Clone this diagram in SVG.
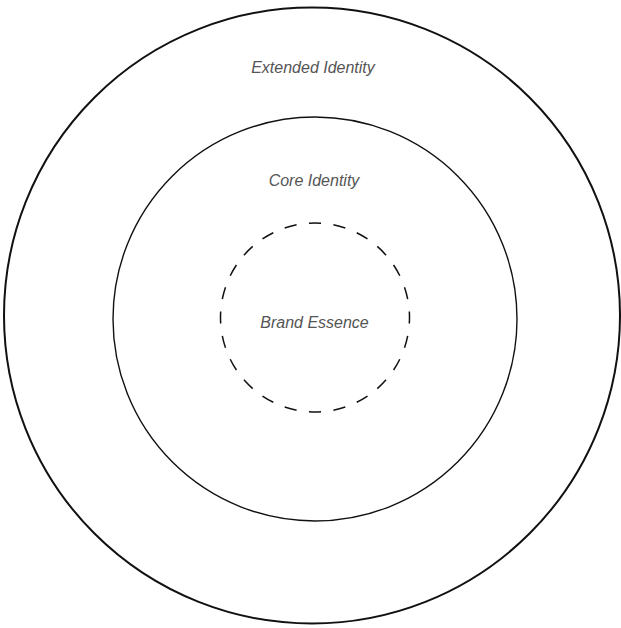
<svg xmlns="http://www.w3.org/2000/svg" width="621" height="628" viewBox="0 0 621 628">
  <style>
    .ring { fill: none; stroke: #111; }
    .label { font-family: "Liberation Sans", Arial, sans-serif; font-style: italic; font-size: 16px; fill: #555; text-anchor: middle; }
  </style>
  <rect width="621" height="628" fill="#fff"/>
  <g id="extended-identity">
    <circle class="ring" cx="312" cy="315.5" r="308" stroke-width="2"/>
    <text class="label" x="313" y="73">Extended Identity</text>
  </g>
  <g id="core-identity">
    <circle class="ring" cx="315" cy="319" r="202" stroke-width="1.4"/>
    <text class="label" x="314" y="186">Core Identity</text>
  </g>
  <g id="brand-essence">
    <!-- 24 evenly spaced dashes, centred on top, bottom, left and right -->
    <circle class="ring" cx="315" cy="317.5" r="94.5" stroke-width="1.5" stroke="#222" pathLength="576" stroke-dasharray="12 12" stroke-dashoffset="6"/>
    <text class="label" x="314.5" y="328">Brand Essence</text>
  </g>
  <g id="connectors"/>
</svg>
